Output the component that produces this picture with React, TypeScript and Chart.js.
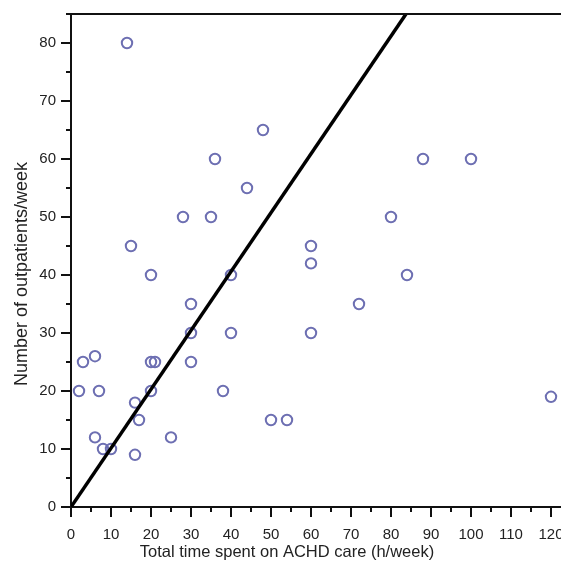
import React, { useEffect, useRef } from "react";
import { Chart, registerables } from "chart.js";

Chart.register(...registerables);

// Observed data: total time spent on ACHD care (h/week) vs outpatients/week
const hoursPerWeek = [14, 48, 36, 88, 100, 44, 28, 35, 80, 15, 60, 60, 20, 40, 84, 72, 30, 30, 40, 60, 3, 6, 20, 21, 30, 2, 7, 20, 38, 16, 17, 6, 8, 10, 16, 25, 50, 54, 120];
const outpatientsPerWeek = [80, 65, 60, 60, 60, 55, 50, 50, 50, 45, 45, 42, 40, 40, 40, 35, 35, 30, 30, 30, 25, 26, 25, 25, 25, 20, 20, 20, 20, 18, 15, 12, 10, 10, 9, 12, 15, 15, 19];

// Fitted line through the origin (endpoints)
const fitX = [0, 83.75];
const fitY = [0, 85];

const xTitle = "Total time spent on ACHD care (h/week)";
const yTitle = "Number of outpatients/week";

const FONT = "'Liberation Sans', Arial, Helvetica, sans-serif";

const decorPlugin = {
  id: "decor",
  afterDraw(chart: any) {
    const { ctx, chartArea } = chart;
    const xs = chart.scales.x;
    const ys = chart.scales.y;
    ctx.save();
    ctx.strokeStyle = "#111";
    ctx.lineWidth = 2;
    // minor ticks
    ctx.beginPath();
    for (let v = 5; v < xs.max; v += 10) {
      const px = Math.round(xs.getPixelForValue(v));
      ctx.moveTo(px, chartArea.bottom);
      ctx.lineTo(px, chartArea.bottom + 5);
    }
    for (let v = 5; v < ys.max; v += 10) {
      const py = Math.round(ys.getPixelForValue(v));
      ctx.moveTo(chartArea.left, py);
      ctx.lineTo(chartArea.left - 5, py);
    }
    ctx.stroke();
    // top frame line
    ctx.beginPath();
    ctx.moveTo(chartArea.left - 5, chartArea.top);
    ctx.lineTo(chartArea.right, chartArea.top);
    ctx.stroke();
    // titles
    ctx.fillStyle = "#222";
    ctx.textAlign = "center";
    ctx.textBaseline = "middle";
    ctx.font = `16.5px ${FONT}`;
    ctx.fillText(xTitle, 287, 552);
    ctx.translate(22, 274);
    ctx.rotate(-Math.PI / 2);
    ctx.font = `18px ${FONT}`;
    ctx.fillText(yTitle, 0, 0);
    ctx.restore();
  },
};

export default function App() {
  const ref = useRef<HTMLCanvasElement>(null);
  useEffect(() => {
    if (!ref.current) return;
    const points = hoursPerWeek.map((x, i) => ({ x, y: outpatientsPerWeek[i] }));
    const fit = fitX.map((x, i) => ({ x, y: fitY[i] }));
    const chart = new Chart(ref.current, {
      type: "scatter",
      data: {
        datasets: [
          {
            type: "line",
            data: fit,
            borderColor: "#000",
            borderWidth: 3.5,
            pointRadius: 0,
            fill: false,
            clip: 0,
          } as any,
          {
            data: points,
            pointStyle: "circle",
            pointRadius: 5.2,
            pointBorderWidth: 2,
            pointBorderColor: "#6d6fb2",
            pointBackgroundColor: "rgba(255,255,255,0)",
            showLine: false,
          },
        ],
      },
      options: {
        responsive: false,
        animation: false,
        layout: { padding: { left: 0, top: 14, right: 29, bottom: 0 } },
        plugins: { legend: { display: false }, tooltip: { enabled: false } },
        scales: {
          x: {
            type: "linear",
            min: 0,
            max: 130,
            afterFit: (s: any) => { s.height = 61; },
            border: { display: true, color: "#111", width: 2 },
            grid: { drawOnChartArea: false, drawTicks: true, tickLength: 10, color: "#111", lineWidth: 2 },
            ticks: { stepSize: 10, padding: 9, color: "#222", font: { family: FONT, size: 15 }, maxRotation: 0, includeBounds: false },
          },
          y: {
            type: "linear",
            min: 0,
            max: 85,
            afterFit: (s: any) => { s.width = 71; },
            border: { display: true, color: "#111", width: 2 },
            grid: { drawOnChartArea: false, drawTicks: true, tickLength: 10, color: "#111", lineWidth: 2 },
            ticks: { stepSize: 10, padding: 5, color: "#222", font: { family: FONT, size: 15 }, includeBounds: false },
          },
        },
      },
      plugins: [decorPlugin],
    });
    return () => chart.destroy();
  }, []);
  return (
    <div style={{ position: "fixed", left: 0, top: 0, width: 561, height: 568, overflow: "hidden", background: "#fff" }}>
      <canvas ref={ref} width={620} height={568} style={{ display: "block", width: 620, height: 568 }} />
    </div>
  );
}
